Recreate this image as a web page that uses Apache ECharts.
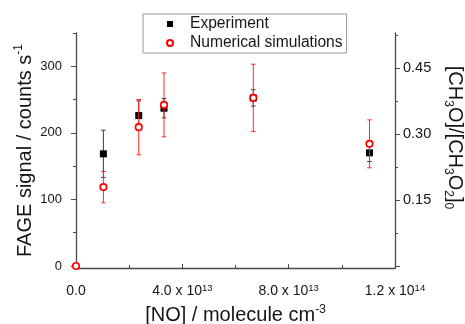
<!DOCTYPE html>
<html>
<head>
<meta charset="utf-8">
<script src="https://cdn.jsdelivr.net/npm/echarts@6/dist/echarts.min.js"></script>
<style>html,body{margin:0;padding:0;background:#fff}#c{width:465px;height:324px}</style>
</head>
<body>
<div id="c"></div>
<script>
// ---- data ----
var noConc = [0, 1.03e13, 2.36e13, 3.31e13, 6.67e13, 11.04e13];
var expX = [1.03e13, 2.36e13, 3.31e13, 6.67e13, 11.04e13];
var expY = [168.5, 226, 237, 252.5, 170];
var expErr = [35.5, 22, 14.5, 12.3, 13];
var simY = [0, 118.5, 208.5, 242, 252.6, 183.5];
var simErr = [0, 23.5, 41.5, 48, 50.5, 36];
var xTicks = [0, 4e13, 8e13, 1.2e14];
var yLeftTicks = [0, 100, 200, 300];
var yLeftMinor = [50, 150, 250, 350];
var yRightTicks = [0, 0.15, 0.30, 0.45];
var yRightLabels = [0.15, 0.30, 0.45];
var yRightMinor = [0.075, 0.225, 0.375, 0.525];

var FONT = '"Liberation Sans", Arial, sans-serif';
var AX = '#4a4a4a';
var TXT = '#151515';

function errRender(color) {
  return function (params, api) {
    var x = api.value(0), y = api.value(1), e = api.value(2);
    if (!e) return null;
    var t = api.coord([x, y + e]);
    var b = api.coord([x, y - e]);
    var w = 2.3;
    var st = { stroke: color, lineWidth: 1 };
    return {
      type: 'group',
      children: [
        { type: 'line', shape: { x1: t[0], y1: t[1], x2: b[0], y2: b[1] }, style: st },
        { type: 'line', shape: { x1: t[0] - w, y1: t[1], x2: t[0] + w, y2: t[1] }, style: st },
        { type: 'line', shape: { x1: b[0] - w, y1: b[1], x2: b[0] + w, y2: b[1] }, style: st }
      ]
    };
  };
}

var expData = expX.map(function (x, i) { return [x, expY[i], expErr[i]]; });
var simData = noConc.map(function (x, i) { return [x, simY[i], simErr[i]]; });

var richBase = {
  m: { fontSize: 20, fontFamily: FONT, color: TXT, lineHeight: 24 },
  sup: { fontSize: 12, fontFamily: FONT, color: TXT, lineHeight: 12, verticalAlign: 'top' },
  sub: { fontSize: 12, fontFamily: FONT, color: TXT, lineHeight: 12, verticalAlign: 'bottom' }
};
var richTick = {
  m: { fontSize: 14, fontFamily: FONT, color: TXT, lineHeight: 17 },
  sup: { fontSize: 9.5, fontFamily: FONT, color: TXT, lineHeight: 9, verticalAlign: 'top' }
};

var chart = echarts.init(document.getElementById('c'), null, { renderer: 'canvas' });
chart.setOption({
  animation: false,
  backgroundColor: '#fff',
  grid: { left: 76, right: 70, top: 33, bottom: 56, containLabel: false, outerBoundsMode: 'none' },
  legend: {
    orient: 'vertical',
    left: 143, top: 14,
    padding: [2, 4, 2, 23],
    borderColor: '#9a9a9a', borderWidth: 1,
    backgroundColor: '#fff',
    itemWidth: 6, itemHeight: 6, itemGap: 3,
    textStyle: { fontSize: 15.6, fontFamily: FONT, color: TXT, lineHeight: 16, padding: [0, 0, 0, 12] },
    data: ['Experiment', 'Numerical simulations']
  },
  xAxis: {
    type: 'value', min: 0, max: 1.2e14, interval: 4e13,
    axisLine: { onZero: false, lineStyle: { color: AX, width: 1.3 } },
    axisTick: { inside: true, length: 4, lineStyle: { color: AX } },
    minorTick: { show: true, splitNumber: 2, length: 3, lineStyle: { color: AX } },
    splitLine: { show: false },
    axisLabel: {
      margin: 15, fontSize: 14, fontFamily: FONT, color: TXT,
      customValues: xTicks,
      formatter: function (v) {
        if (v === 0) return '{m|0.0}';
        var e = Math.floor(Math.log10(v) + 1e-9);
        var m = v / Math.pow(10, e);
        return '{m|' + m.toFixed(1) + ' x 10}{sup|' + e + '}';
      },
      rich: richTick
    },
    name: '{m|[NO] / molecule cm}{sup|-3}',
    nameLocation: 'middle', nameGap: 32,
    nameTextStyle: { rich: richBase }
  },
  yAxis: [
    {
      type: 'value', min: -3, max: 350, position: 'left',
      axisLine: { show: true, onZero: false, lineStyle: { color: AX, width: 1.3 } },
      axisTick: { show: true, length: 5, customValues: yLeftTicks, lineStyle: { color: AX } },
      splitLine: { show: false },
      axisLabel: { customValues: yLeftTicks, margin: 14, fontSize: 13, fontFamily: FONT, color: TXT },
      name: '{m|FAGE signal / counts s}{sup|-1}',
      nameLocation: 'middle', nameRotate: 90, nameGap: 39, nameMoveOverlap: false,
      nameTextStyle: { rich: richBase }
    },
    {
      type: 'value', min: -0.0045, max: 0.5295, position: 'right',
      axisLine: { show: true, onZero: false, lineStyle: { color: AX, width: 1.3 } },
      axisTick: { show: true, length: 5, customValues: yRightTicks, lineStyle: { color: AX } },
      splitLine: { show: false },
      axisLabel: {
        customValues: yRightLabels, margin: 8, fontSize: 14.5, fontFamily: FONT, color: TXT,
        formatter: function (v) { return v.toFixed(2); }
      },
      name: '{m|[CH}{sub|3}{m|O]/[CH}{sub|3}{m|O}{sub|2}{m|]}{sub|0}',
      nameLocation: 'middle', nameRotate: -90, nameGap: 44,
      nameTextStyle: { rich: richBase, padding: [0, 26, 0, 0] }
    },
    {
      type: 'value', min: -3, max: 350, position: 'left', offset: 0,
      axisLine: { show: false, onZero: false },
      axisTick: { show: true, length: 3, customValues: yLeftMinor, lineStyle: { color: AX } },
      axisLabel: { show: false },
      splitLine: { show: false }
    },
    {
      type: 'value', min: -0.0045, max: 0.5295, position: 'right', offset: 0,
      axisLine: { show: false, onZero: false },
      axisTick: { show: true, length: 3, customValues: yRightMinor, lineStyle: { color: AX } },
      axisLabel: { show: false },
      splitLine: { show: false }
    }
  ],
  series: [
    {
      name: 'Experiment-err', type: 'custom', renderItem: errRender('#3a3a3a'),
      data: expData, encode: { x: 0, y: 1 }, clip: true, z: 2
    },
    {
      name: 'Experiment', type: 'scatter', symbol: 'rect', symbolSize: 7,
      itemStyle: { color: '#000', opacity: 1 }, data: expData, encode: { x: 0, y: 1 }, clip: true, z: 3
    },
    {
      name: 'Numerical simulations-err', type: 'custom', renderItem: errRender('#ff2a2a'),
      data: simData, encode: { x: 0, y: 1 }, clip: true, z: 4
    },
    {
      name: 'Numerical simulations', type: 'scatter', symbol: 'circle', symbolSize: 6.5,
      itemStyle: { color: '#fff', borderColor: '#ff0000', borderWidth: 1.7, opacity: 1 },
      data: simData, encode: { x: 0, y: 1 }, clip: true, z: 5
    }
  ]
});
</script>
</body>
</html>
